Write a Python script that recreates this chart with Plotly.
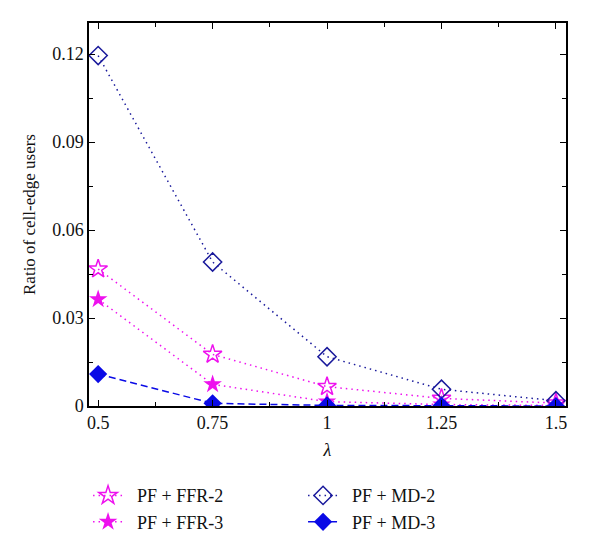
import plotly.graph_objects as go

lam = [0.5, 0.75, 1.0, 1.25, 1.5]
ffr2 = [0.0467, 0.0176, 0.0066, 0.0026, 0.0010]
ffr3 = [0.0364, 0.0074, 0.0015, 0.0005, 0.0002]
md2 = [0.1195, 0.0491, 0.0168, 0.0057, 0.0018]
md3 = [0.0109, 0.0009, 0.0002, 0.0001, 0.0000]
names = ["PF + FFR-2", "PF + MD-2", "PF + FFR-3", "PF + MD-3"]

MAG = "#ee11ee"
NAVY = "#1a1a9c"
BLUE = "#0a0ae6"
DOT = "1.5px,4px"
PAD = "&nbsp;&nbsp;"

fig = go.Figure()
fig.add_trace(go.Scatter(x=lam, y=ffr2, name=PAD + names[0], mode="lines+markers",
                         line=dict(color=MAG, dash=DOT, width=1.5),
                         marker=dict(symbol="star-open", size=14, color=MAG, line=dict(width=1.5))))
fig.add_trace(go.Scatter(x=lam, y=md2, name=PAD + names[1], mode="lines+markers",
                         line=dict(color=NAVY, dash=DOT, width=1.5),
                         marker=dict(symbol="diamond-open", size=14, color=NAVY, line=dict(width=1.5))))
fig.add_trace(go.Scatter(x=lam, y=ffr3, name=PAD + names[2], mode="lines+markers",
                         line=dict(color=MAG, dash=DOT, width=1.5),
                         marker=dict(symbol="star", size=14, color=MAG)))
fig.add_trace(go.Scatter(x=lam, y=md3, name=PAD + names[3], mode="lines+markers",
                         line=dict(color=BLUE, dash="7px,4px", width=1.5),
                         marker=dict(symbol="diamond", size=14, color=BLUE)))

font = dict(family="Liberation Serif, Times New Roman, serif", size=18, color="#111")
fig.update_layout(
    width=600, height=549,
    margin=dict(l=81, r=42, t=15, b=151, autoexpand=False),
    paper_bgcolor="white", plot_bgcolor="white",
    font=font,
    showlegend=True,
    legend=dict(orientation="h", x=-0.002, xanchor="left",
                y=-0.186, yanchor="top",
                entrywidth=170, entrywidthmode="pixels", font=font,
                tracegroupgap=0),
)
fig.update_xaxes(
    range=[0.48, 1.522], tickvals=lam, ticktext=["0.5", "0.75", "1", "1.25", "1.5"],
    ticks="inside", ticklen=6, tickcolor="black", showline=True, linecolor="black", linewidth=1.5,
    mirror="allticks", showgrid=False, zeroline=False,
    minor=dict(ticks="inside", ticklen=4, dtick=0.125, tick0=0.5, tickcolor="black", showgrid=False),
    title=dict(text="<i>λ</i>", font=font, standoff=11),
)
fig.update_yaxes(
    range=[0, 0.1306], tickvals=[0, 0.03, 0.06, 0.09, 0.12], ticktext=["0", "0.03", "0.06", "0.09", "0.12"],
    ticks="inside", ticklen=6, tickcolor="black", showline=True, linecolor="black", linewidth=1.5,
    mirror="allticks", showgrid=False, zeroline=False,
    minor=dict(ticks="inside", ticklen=4, dtick=0.015, tick0=0, tickcolor="black", showgrid=False),
    title=dict(text="Ratio of cell-edge users", font=dict(family=font["family"], size=17, color="#111"), standoff=12),
)
fig.write_html("out.html")
